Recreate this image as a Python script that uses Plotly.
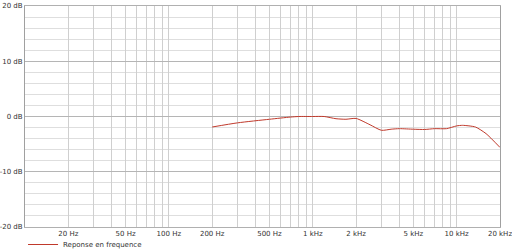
import plotly.graph_objects as go

freq_hz = [200, 300, 500, 700, 800, 1000, 1200, 1450, 1700, 2000, 2500, 3000, 3500,
           4000, 5000, 6000, 7000, 8500, 10000, 11000, 13500, 16000, 20000]
level_db = [-1.9, -1.15, -0.5, -0.1, 0.0, 0.0, 0.0, -0.4, -0.5, -0.35, -1.5, -2.5, -2.3,
            -2.2, -2.3, -2.35, -2.2, -2.2, -1.7, -1.6, -1.9, -3.1, -5.6]
series_name = "Reponse en frequence"

x_labels = {20: "20 Hz", 50: "50 Hz", 100: "100 Hz", 200: "200 Hz", 500: "500 Hz",
            1000: "1 kHz", 2000: "2 kHz", 5000: "5 kHz", 10000: "10 kHz", 20000: "20 kHz"}
y_ticks = [-20, -10, 0, 10, 20]
y_labels = ["-20 dB", "-10 dB", "0 dB", "10 dB", "20 dB"]

x_grid = []
for dec in [10, 100, 1000, 10000]:
    for m in range(1, 10):
        v = dec * m
        if 20 <= v <= 20000:
            x_grid.append(v)
x_grid.append(20000)
x_grid = sorted(set(x_grid))
x_text = [x_labels.get(v, "") for v in x_grid]

fig = go.Figure()
fig.add_trace(go.Scatter(x=freq_hz, y=level_db, mode="lines", name=series_name,
                         line=dict(color="#c0392b", width=1, shape="spline", smoothing=0.6),
                         showlegend=True))

font = dict(family="DejaVu Sans", size=7, color="#333")
fig.update_layout(
    width=512, height=250,
    margin=dict(l=25, r=12, t=6, b=23, autoexpand=False),
    paper_bgcolor="white", plot_bgcolor="white",
    font=font,
    showlegend=True,
    legend=dict(x=0.045, y=0.022, xref="container", yref="container",
                xanchor="left", yanchor="middle", orientation="h",
                font=dict(family="DejaVu Sans", size=7, color="#333"),
                bgcolor="rgba(0,0,0,0)"),
    xaxis=dict(type="log", range=[1, 4.30104], tickmode="array", tickvals=x_grid,
               ticktext=x_text, showgrid=True, gridcolor="#cfcfcf", gridwidth=1,
               zeroline=False, showline=True, linecolor="#b0b0b0", linewidth=1,
               mirror=True, ticks="", tickfont=font, ticklabelstandoff=0,
               ticklabeloverflow="allow"),
    yaxis=dict(range=[-20, 20], tickmode="array", tickvals=y_ticks, ticktext=y_labels,
               showgrid=True, gridcolor="#b5b5b5", gridwidth=1, zeroline=False,
               showline=True, linecolor="#a0a0a0", linewidth=1, mirror=True,
               ticks="", tickfont=font,
               minor=dict(dtick=2, tick0=0, showgrid=True, gridcolor="#dedede", gridwidth=1)),
)
fig.write_html("out.html")
